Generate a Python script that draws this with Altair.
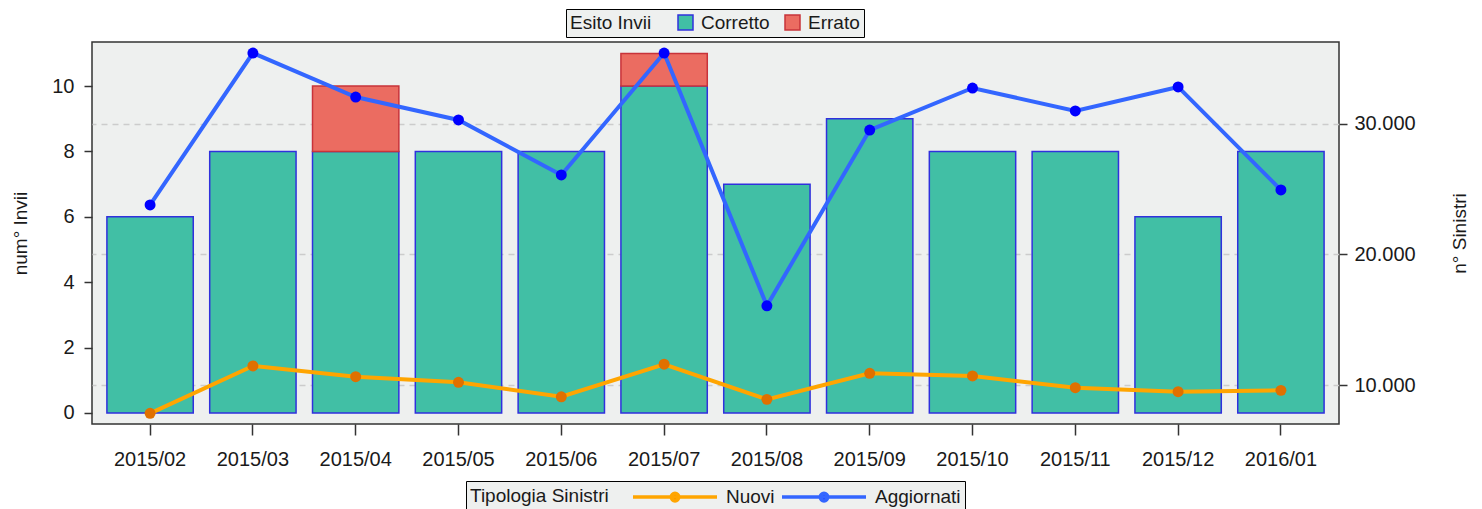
import altair as alt
import pandas as pd

# ---- data ----
months = ["2015/02", "2015/03", "2015/04", "2015/05", "2015/06", "2015/07",
          "2015/08", "2015/09", "2015/10", "2015/11", "2015/12", "2016/01"]
corretto = [6, 8, 8, 8, 8, 10, 7, 9, 8, 8, 6, 8]
errato = [0, 0, 2, 0, 0, 1, 0, 0, 0, 0, 0, 0]
nuovi = [7830, 11460, 10640, 10210, 9100, 11590, 8900, 10900, 10690, 9790, 9490, 9590]
aggiornati = [23790, 35430, 32060, 30300, 26090, 35430, 16070, 29530, 32750, 30990, 32830, 24940]

esito_labels = ["Corretto", "Errato"]
tipologia_labels = ["Nuovi", "Aggiornati"]
right_ticks = [10000, 20000, 30000]
left_ticks = [0, 2, 4, 6, 8, 10]

# ---- tables ----
bar_rows = []
for m, c, e in zip(months, corretto, errato):
    if c:
        bar_rows.append({"Mese": m, "Esito": "Corretto", "Invii": c, "ord": 0})
    if e:
        bar_rows.append({"Mese": m, "Esito": "Errato", "Invii": e, "ord": 1})
bar_df = pd.DataFrame(bar_rows)

line_rows = []
for m, n, a in zip(months, nuovi, aggiornati):
    line_rows.append({"Mese": m, "Tipologia": "Nuovi", "Sinistri": n})
    line_rows.append({"Mese": m, "Tipologia": "Aggiornati", "Sinistri": a})
line_df = pd.DataFrame(line_rows)

FONT = "Liberation Sans"
TXT = "#1a1a1a"
BG = "#EEF0EF"

x_enc = alt.X(
    "Mese:N",
    sort=months,
    scale=alt.Scale(domain=months, paddingInner=0.16, paddingOuter=0.145),
    axis=alt.Axis(title=None, labelAngle=0, tickSize=11, tickWidth=1.5, tickColor="#333",
                  domain=False, labelPadding=14, labelFontSize=20, labelColor=TXT),
)

legend_top = alt.Legend(
    title="Esito Invii", orient="none", legendX=474, legendY=-33, direction="horizontal",
    titleOrient="left", fillColor=BG, strokeColor="#000", padding=4,
    symbolType="square", symbolSize=225, symbolStrokeWidth=1.5,
    labelFontSize=19, titleFontSize=19, titleFontWeight="normal",
    titlePadding=24, labelOffset=6, columnPadding=12,
    labelColor=TXT, titleColor=TXT, titleBaseline="middle",
)

bars = alt.Chart(bar_df).mark_bar(strokeWidth=1.5, opacity=1).encode(
    x=x_enc,
    y=alt.Y("Invii:Q", stack="zero",
            scale=alt.Scale(domain=[-0.34, 11.35], nice=False, zero=False),
            axis=alt.Axis(title="num° Invii", orient="left", values=left_ticks, grid=False,
                          domain=False, tickSize=8, tickWidth=1.5, tickColor="#333",
                          labelPadding=10, labelFontSize=20, labelColor=TXT,
                          titleFontSize=19, titleFontWeight="normal", titleColor=TXT,
                          titlePadding=21)),
    fill=alt.Fill("Esito:N",
                  scale=alt.Scale(domain=esito_labels, range=["#41BFA5", "#EB6C61"]),
                  legend=legend_top),
    stroke=alt.Stroke("Esito:N",
                      scale=alt.Scale(domain=esito_labels, range=["#3030DD", "#C8333A"]),
                      legend=legend_top),
    order=alt.Order("ord:Q"),
)

# line-with-dot legend symbol: unit = 10px (symbolSize 400)
line_dot_symbol = "M-1,0L7.4,0M3.58,0A0.38,0.38,0,1,1,2.82,0A0.38,0.38,0,1,1,3.58,0"

legend_bottom = alt.Legend(
    title="Tipologia Sinistri", orient="none", legendX=374, legendY=439, direction="horizontal",
    titleOrient="left", fillColor=BG, strokeColor="#000", padding=4,
    symbolType=line_dot_symbol, symbolSize=400, symbolStrokeWidth=3.5,
    labelFontSize=19, titleFontSize=19, titleFontWeight="normal",
    titlePadding=22, labelOffset=71, columnPadding=0,
    labelColor=TXT, titleColor=TXT, titleBaseline="middle",
)

y_right = alt.Y(
    "Sinistri:Q",
    scale=alt.Scale(domain=[7013, 36274], nice=False, zero=False),
    axis=alt.Axis(title="n° Sinistri", orient="right", values=right_ticks, grid=True,
                  gridDash=[6, 5], gridColor="#CCCCCC", gridWidth=1.5,
                  labelExpr="replace(format(datum.value, ','), ',', '.')",
                  domain=False, tickSize=8, tickWidth=1.5, tickColor="#333",
                  labelPadding=7, labelFontSize=20, labelColor=TXT,
                  titleFontSize=19, titleFontWeight="normal", titleColor=TXT,
                  titleAngle=270, titlePadding=54),
)

lines = alt.Chart(line_df).mark_line(strokeWidth=4).encode(
    x=x_enc,
    y=y_right,
    stroke=alt.Stroke("Tipologia:N",
                      scale=alt.Scale(domain=tipologia_labels, range=["#FFA500", "#3366FF"]),
                      legend=legend_bottom),
    detail="Tipologia:N",
)

points = alt.Chart(line_df).mark_point(filled=True, size=120, opacity=1).encode(
    x=x_enc,
    y=y_right,
    fill=alt.Fill("Tipologia:N",
                  scale=alt.Scale(domain=tipologia_labels, range=["#E07000", "#0000FF"]),
                  legend=legend_bottom),
)

line_layer = alt.layer(lines, points)

chart = alt.layer(bars, line_layer).resolve_scale(
    y="independent", fill="independent", stroke="independent"
).properties(
    width=1247, height=382,
    autosize=alt.AutoSizeParams(type="none"),
    padding={"left": 84, "top": 34, "right": 130, "bottom": 85},
).configure(
    font=FONT,
).configure_view(
    fill=BG, stroke="#333", strokeWidth=1.5,
)

chart.save("out.html", embed_options={"renderer": "svg", "actions": False})
